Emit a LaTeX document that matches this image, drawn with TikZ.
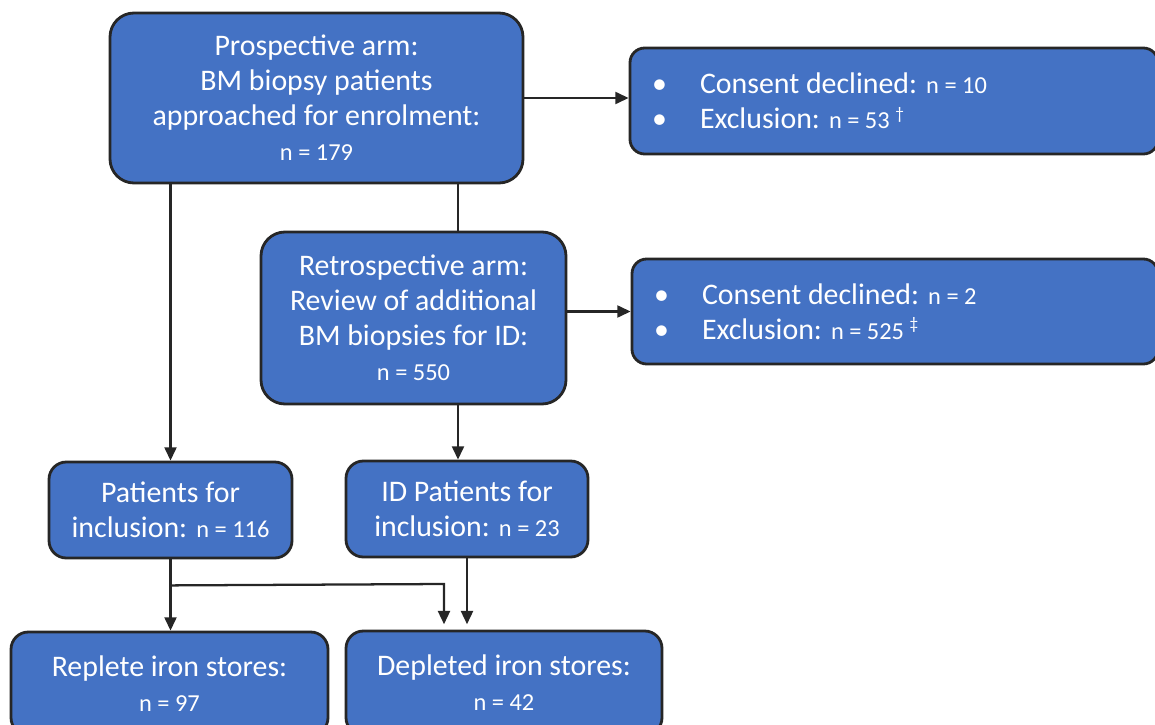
\documentclass[tikz,border=0pt]{standalone}
\usepackage{fontspec}
\setmainfont{Carlito}
\usetikzlibrary{arrows.meta,calc}
\definecolor{boxc}{HTML}{4472C4}
\definecolor{bordc}{HTML}{262626}
\newcommand\mainfs{\fontsize{22.4pt}{26.3pt}\selectfont}
\newcommand\nfs{\fontsize{18.3pt}{22pt}\selectfont}
\newcommand\supmark[1]{\raisebox{7pt}{\fontsize{13pt}{13pt}\selectfont #1}}
\newcommand\listline[1]{\mbox{\spaceskip=0pt\xspaceskip=0pt\makebox[36pt][l]{\textbullet}#1}}
\tikzset{
  box/.style={draw=bordc, fill=boxc, line width=2.1pt, rounded corners=13pt,
    text=white, align=center, inner sep=0pt, font=\mainfs},
  listbox/.style={box, align=left, inner xsep=16.5pt, rounded corners=11pt},
  conn/.style={draw=bordc, line width=1.7pt, -{Triangle[length=10pt,width=9pt]}},
  plain/.style={draw=bordc, line width=1.7pt},
}
\begin{document}
\begin{tikzpicture}[x=0.75pt,y=-0.75pt]
\useasboundingbox (0,0) rectangle (1155,724);
\node[box, rounded corners=18pt, minimum width=309.75pt, minimum height=127.5pt] (P) at (316.5,98)
  {Prospective arm:\\ BM biopsy patients\\ approached for enrolment:\\ {\nfs n = 179}};
\node[listbox, minimum width=396pt, minimum height=79.5pt, text width=363pt] (R1) at (894,101)
  {\listline{Consent declined: {\nfs n = 10}}\\ \listline{Exclusion: {\nfs n = 53 \supmark{†}}}};
\node[box, rounded corners=18pt, minimum width=228.75pt, minimum height=129pt] (Re) at (413.5,318)
  {Retrospective arm:\\ Review of additional\\ BM biopsies for ID:\\ {\nfs n = 550}};
\node[listbox, minimum width=394.5pt, minimum height=78.75pt, text width=361.5pt] (R2) at (895,311.5)
  {\listline{Consent declined: {\nfs n = 2}}\\ \listline{Exclusion: {\nfs n = 525 \supmark{‡}}}};
\node[box, minimum width=182.25pt, minimum height=72pt] (Pat) at (170.5,510)
  {Patients for\\ inclusion: {\nfs n = 116}};
\node[box, minimum width=181.5pt, minimum height=72pt] (ID) at (467,509)
  {ID Patients for\\ inclusion: {\nfs n = 23}};
\node[box, minimum width=237.75pt, minimum height=77.25pt] (Rep) at (169.5,683.5)
  {Replete iron stores:\\ {\nfs n = 97}};
\node[box, minimum width=237pt, minimum height=78pt] (Dep) at (504,683)
  {Depleted iron stores:\\ {\nfs n = 42}};
% connectors
\coordinate (c1) at (458,0);
\draw[conn] (P.east) -- (P.east -| R1.west);
\draw[conn] (R2.west -| Re.east) -- (R2.west);
\draw[conn] (P.south -| Pat.north) -- (Pat.north);
\draw[plain] (P.south -| c1) -- (Re.north -| c1);
\draw[conn] (Re.south -| c1) -- (ID.north -| c1);
\path (Pat.south) ++(0,26) coordinate (jL);
\coordinate (jR) at (444,584);
\draw[conn] (Pat.south) -- (Pat.south |- Rep.north);
\draw[conn, shorten >=4pt] (jL) -- (jR) -- (jR |- Dep.north);
\draw[conn, shorten >=4pt] (ID.south) -- (ID.south |- Dep.north);
\end{tikzpicture}
\end{document}
